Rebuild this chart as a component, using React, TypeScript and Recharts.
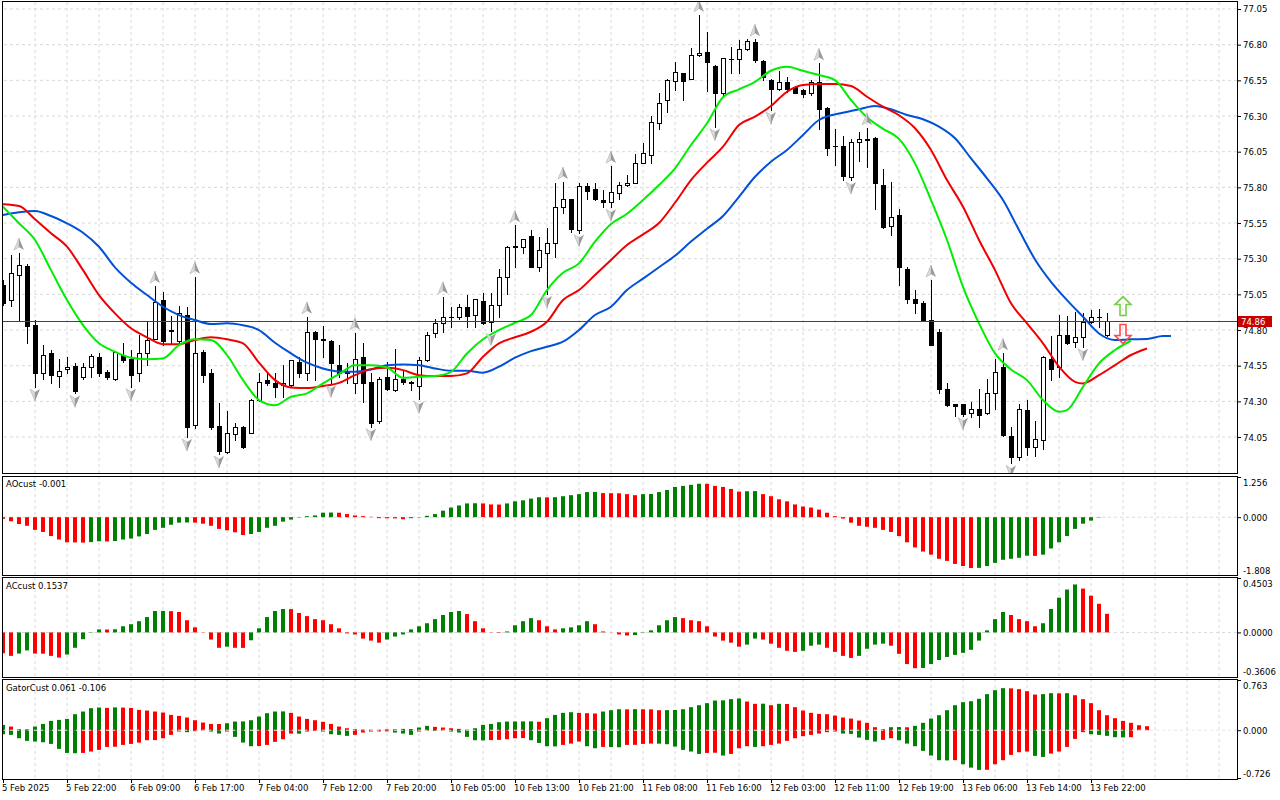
import React from "react";
import {
  ComposedChart,
  Bar,
  Line,
  Scatter,
  XAxis,
  YAxis,
  ReferenceLine,
  Cell,
} from "recharts";

// H1 candles (bar 0 = 5 Feb 2025)
const opens = [
  75.115, 75.01, 75.185, 75.248, 74.835, 74.498, 74.637, 74.477, 74.526, 74.547,
  74.47, 74.54, 74.608, 74.505, 74.456, 74.622, 74.594, 74.498, 74.639, 74.737,
  75.01, 74.8, 74.723, 74.905, 74.134, 74.646, 74.5, 74.127, 73.945, 74.071,
  74.12, 74.078, 74.309, 74.449, 74.426, 74.412, 74.414, 74.575, 74.498, 74.786,
  74.74, 74.725, 74.552, 74.506, 74.428, 74.608, 74.433, 74.162, 74.468, 74.379,
  74.456, 74.437, 74.407, 74.589, 74.779, 74.849, 74.893, 74.891, 74.963, 74.905,
  75.005, 74.856, 74.975, 75.171, 75.39, 75.382, 75.459, 75.241, 75.34, 75.41,
  75.662, 75.716, 75.501, 75.809, 75.786, 75.711, 75.697, 75.762, 75.814, 75.83,
  75.97, 76.026, 76.251, 76.412, 76.545, 76.599, 76.559, 76.727, 76.749, 76.65,
  76.461, 76.7, 76.699, 76.77, 76.819, 76.688, 76.552, 76.489, 76.538, 76.501,
  76.482, 76.461, 76.538, 76.354, 76.09, 76.09, 75.872, 76.118, 76.135, 76.146,
  75.814, 75.529, 75.604, 75.225, 75.015, 74.991, 74.87, 74.786, 74.384, 74.281,
  74.281, 74.218, 74.244, 74.218, 74.358, 74.543, 74.057, 73.91, 74.239, 73.98,
  74.029, 74.599, 74.54, 74.763, 74.716, 74.751, 74.856, 74.893, 74.762,
];
const highs = [
  75.15, 75.325, 75.339, 75.262, 74.87, 74.695, 74.66, 74.596, 74.61, 74.571,
  74.571, 74.631, 74.636, 74.519, 74.65, 74.707, 74.66, 74.762, 74.865, 75.108,
  75.066, 74.898, 74.968, 74.961, 75.173, 74.66, 74.528, 74.29, 74.23, 74.148,
  74.127, 74.315, 74.5, 74.496, 74.496, 74.552, 74.589, 74.608, 74.893, 74.79,
  74.828, 74.73, 74.692, 74.568, 74.781, 74.711, 74.501, 74.47, 74.575, 74.664,
  74.51, 74.44, 74.613, 74.786, 74.877, 75.033, 74.963, 74.98, 75.043, 75.02,
  75.057, 75.057, 75.229, 75.39, 75.534, 75.44, 75.502, 75.454, 75.515, 75.828,
  75.837, 75.72, 75.828, 75.83, 75.828, 75.78, 75.949, 75.837, 75.889, 76.033,
  76.108, 76.3, 76.46, 76.56, 76.678, 76.6, 76.777, 77.01, 76.889, 76.66,
  76.71, 76.786, 76.833, 76.842, 76.838, 76.69, 76.56, 76.613, 76.575, 76.51,
  76.49, 76.552, 76.669, 76.36, 76.206, 76.16, 76.139, 76.188, 76.216, 76.15,
  75.926, 75.837, 75.65, 75.243, 75.08, 75.0, 75.15, 74.805, 74.426, 74.285,
  74.285, 74.295, 74.388, 74.454, 74.594, 74.637, 74.122, 74.281, 74.309, 74.164,
  74.62, 74.758, 74.903, 74.898, 74.926, 74.917, 74.94, 74.945, 74.919,
];
const lows = [
  74.975, 74.968, 74.865, 74.71, 74.4, 74.456, 74.431, 74.4, 74.498, 74.356,
  74.456, 74.47, 74.477, 74.456, 74.452, 74.575, 74.402, 74.444, 74.552, 74.735,
  74.693, 74.71, 74.71, 74.05, 74.113, 74.435, 74.104, 73.931, 73.935, 74.029,
  73.975, 74.075, 74.3, 74.412, 74.328, 74.328, 74.41, 74.47, 74.449, 74.449,
  74.613, 74.426, 74.472, 74.426, 74.356, 74.295, 74.122, 74.146, 74.38, 74.375,
  74.42, 74.38, 74.314, 74.58, 74.753, 74.786, 74.818, 74.88, 74.818, 74.818,
  74.84, 74.79, 74.89, 75.052, 75.243, 75.337, 75.24, 75.213, 75.052, 75.314,
  75.618, 75.49, 75.482, 75.72, 75.71, 75.664, 75.66, 75.72, 75.81, 75.828,
  75.968, 75.973, 76.206, 76.328, 76.482, 76.412, 76.556, 76.72, 76.477, 76.225,
  76.435, 76.599, 76.599, 76.76, 76.678, 76.552, 76.342, 76.48, 76.468, 76.46,
  76.435, 76.45, 76.211, 76.024, 75.954, 75.851, 75.851, 75.986, 75.944, 75.65,
  75.515, 75.464, 75.113, 74.987, 74.917, 74.86, 74.694, 74.356, 74.267, 74.197,
  74.2, 74.192, 74.122, 74.21, 74.244, 74.06, 73.865, 73.889, 73.922, 73.917,
  73.964, 74.449, 74.469, 74.7, 74.683, 74.683, 74.85, 74.823, 74.755,
];
const closes = [
  74.989, 75.199, 75.255, 74.828, 74.498, 74.624, 74.484, 74.512, 74.54, 74.372,
  74.54, 74.617, 74.501, 74.468, 74.646, 74.589, 74.482, 74.637, 74.73, 74.996,
  74.72, 74.79, 74.919, 74.12, 74.638, 74.484, 74.122, 73.954, 74.078, 74.12,
  73.982, 74.309, 74.435, 74.426, 74.398, 74.426, 74.589, 74.501, 74.786, 74.735,
  74.73, 74.566, 74.496, 74.496, 74.596, 74.428, 74.15, 74.456, 74.384, 74.456,
  74.437, 74.428, 74.589, 74.765, 74.849, 74.891, 74.889, 74.961, 74.898, 75.017,
  74.851, 74.975, 75.171, 75.382, 75.38, 75.438, 75.243, 75.361, 75.41, 75.662,
  75.718, 75.51, 75.809, 75.776, 75.72, 75.697, 75.767, 75.814, 75.828, 75.97,
  76.038, 76.258, 76.391, 76.552, 76.608, 76.547, 76.727, 76.741, 76.678, 76.459,
  76.706, 76.702, 76.77, 76.826, 76.692, 76.575, 76.487, 76.538, 76.487, 76.463,
  76.454, 76.538, 76.347, 76.073, 76.089, 75.879, 76.118, 76.136, 76.137, 75.828,
  75.524, 75.592, 75.239, 75.015, 74.987, 74.865, 74.694, 74.384, 74.276, 74.267,
  74.211, 74.246, 74.206, 74.356, 74.505, 74.066, 73.907, 74.246, 73.978, 74.036,
  74.611, 74.524, 74.765, 74.711, 74.751, 74.856, 74.891, 74.891, 74.86,
];

// Alligator lines as [bar, value]; they run past the last candle by their shifts
const jawPoints: [number, number][] = [
  [0, 75.606], [2, 75.625], [4, 75.634], [6, 75.599], [8, 75.548], [10, 75.482],
  [12, 75.384], [14, 75.239], [16, 75.131], [18, 75.045], [20, 74.963], [22, 74.905],
  [24, 74.87], [26, 74.842], [28, 74.847], [30, 74.833], [32, 74.8], [34, 74.711],
  [36, 74.636], [38, 74.571], [40, 74.531], [42, 74.51], [44, 74.507], [46, 74.524],
  [48, 74.554], [50, 74.559], [52, 74.554], [54, 74.531], [56, 74.515], [58, 74.515],
  [60, 74.501], [62, 74.543], [64, 74.606], [66, 74.652], [68, 74.683], [70, 74.718],
  [72, 74.8], [74, 74.905], [76, 74.963], [78, 75.08], [80, 75.16], [82, 75.24],
  [84, 75.32], [86, 75.42], [88, 75.51], [90, 75.599], [92, 75.734], [94, 75.874],
  [96, 75.98], [98, 76.062], [100, 76.167], [102, 76.272], [105, 76.323], [107, 76.347],
  [109, 76.37], [111, 76.347], [113, 76.307], [115, 76.277], [117, 76.225], [119, 76.144],
  [121, 76.003], [123, 75.863], [125, 75.711], [127, 75.501], [129, 75.295], [131, 75.138],
  [133, 75.01], [135, 74.893], [137, 74.776], [139, 74.73], [141, 74.735], [143, 74.737],
  [145, 74.758], [146, 74.758],
];
const teethPoints: [number, number][] = [
  [0, 75.681], [2, 75.669], [4, 75.576], [6, 75.478], [8, 75.384], [10, 75.22],
  [12, 75.045], [14, 74.917], [16, 74.812], [18, 74.749], [20, 74.701], [22, 74.701],
  [24, 74.73], [26, 74.749], [28, 74.735], [30, 74.707], [32, 74.571], [34, 74.449],
  [36, 74.398], [38, 74.393], [40, 74.407], [42, 74.43], [44, 74.484], [46, 74.526],
  [48, 74.535], [50, 74.519], [52, 74.484], [54, 74.477], [56, 74.477], [58, 74.496],
  [60, 74.613], [62, 74.707], [64, 74.749], [66, 74.788], [68, 74.858], [70, 75.01],
  [72, 75.08], [74, 75.185], [76, 75.291], [78, 75.396], [80, 75.47], [82, 75.55],
  [84, 75.692], [86, 75.851], [88, 75.973], [90, 76.085], [92, 76.237], [94, 76.295],
  [96, 76.37], [98, 76.47], [100, 76.517], [102, 76.524], [104, 76.524], [106, 76.51],
  [108, 76.435], [110, 76.365], [112, 76.305], [114, 76.214], [116, 76.062], [118, 75.851],
  [120, 75.664], [122, 75.431], [124, 75.22], [126, 74.987], [128, 74.847], [130, 74.707],
  [132, 74.543], [134, 74.437], [135, 74.426], [137, 74.484], [139, 74.554], [141, 74.625],
  [143, 74.671],
];
const lipsPoints: [number, number][] = [
  [0, 75.664], [2, 75.548], [4, 75.431], [6, 75.22], [8, 75.01], [10, 74.835],
  [12, 74.707], [14, 74.648], [16, 74.606], [18, 74.596], [20, 74.601], [22, 74.694],
  [24, 74.735], [26, 74.73], [28, 74.625], [30, 74.449], [32, 74.309], [34, 74.272],
  [36, 74.332], [38, 74.356], [40, 74.426], [42, 74.491], [44, 74.554], [46, 74.554],
  [48, 74.538], [50, 74.465], [52, 74.472], [54, 74.477], [56, 74.507], [58, 74.636],
  [60, 74.735], [62, 74.8], [64, 74.851], [66, 74.905], [68, 75.08], [70, 75.201],
  [72, 75.267], [74, 75.419], [76, 75.543], [78, 75.615], [80, 75.711], [82, 75.816],
  [84, 75.933], [86, 76.097], [88, 76.249], [90, 76.431], [92, 76.487], [94, 76.54],
  [96, 76.617], [98, 76.645], [100, 76.617], [102, 76.587], [104, 76.552], [106, 76.412],
  [108, 76.291], [110, 76.21], [112, 76.14], [114, 75.968], [116, 75.711], [118, 75.431],
  [120, 75.103], [122, 74.847], [124, 74.636], [126, 74.524], [128, 74.449], [130, 74.309],
  [132, 74.227], [133, 74.239], [135, 74.402], [137, 74.566], [139, 74.66], [141, 74.725],
];

// Bill Williams fractals (bar numbers) and the two signal arrows
const fractalUpBars = [2, 19, 24, 38, 44, 55, 64, 70, 76, 87, 94, 102, 108, 116, 125];
const fractalDownBars = [4, 9, 16, 23, 27, 41, 46, 52, 61, 68, 72, 76, 89, 96, 106, 120, 126, 135];
const buySignals: [number, number][] = [[140, 74.968]];
const sellSignals: [number, number][] = [[140, 74.772]];
const lastPrice = 74.86;

const aoValues = [
  -0.05, -0.129, -0.215, -0.269, -0.398, -0.462, -0.591, -0.699, -0.785, -0.79,
  -0.795, -0.78, -0.753, -0.76, -0.745, -0.699, -0.667, -0.602, -0.527, -0.398,
  -0.333, -0.237, -0.172, -0.165, -0.17, -0.204, -0.269, -0.366, -0.409, -0.473,
  -0.559, -0.527, -0.462, -0.333, -0.269, -0.14, -0.075, -0.01, 0.03, 0.054,
  0.14, 0.145, 0.14, 0.097, 0.054, 0.032, 0.01, -0.032, -0.035, -0.038,
  -0.065, -0.032, -0.01, 0.043, 0.097, 0.204, 0.301, 0.366, 0.43, 0.435,
  0.43, 0.398, 0.395, 0.43, 0.495, 0.527, 0.581, 0.624, 0.62, 0.625,
  0.656, 0.688, 0.72, 0.785, 0.79, 0.753, 0.75, 0.747, 0.72, 0.688,
  0.72, 0.725, 0.785, 0.849, 0.946, 0.978, 1.011, 1.045, 1.043, 0.978,
  0.946, 0.882, 0.8, 0.81, 0.815, 0.72, 0.656, 0.559, 0.495, 0.398,
  0.333, 0.301, 0.237, 0.14, 0.032, -0.043, -0.172, -0.269, -0.3, -0.333,
  -0.398, -0.462, -0.591, -0.785, -0.946, -1.075, -1.172, -1.301, -1.366, -1.462,
  -1.527, -1.591, -1.585, -1.527, -1.43, -1.333, -1.301, -1.269, -1.204, -1.21,
  -1.172, -0.978, -0.785, -0.591, -0.366, -0.204, -0.108, -0.01, -0.001,
];
const acValues = [
  -0.172, -0.194, -0.175, -0.149, -0.175, -0.176, -0.194, -0.208, -0.183, -0.127,
  -0.056, -0.003, 0.025, 0.024, 0.026, 0.051, 0.068, 0.093, 0.127, 0.177,
  0.178, 0.176, 0.169, 0.101, 0.042, -0.002, -0.059, -0.127, -0.118, -0.127,
  -0.128, -0.065, 0.034, 0.127, 0.177, 0.194, 0.193, 0.161, 0.135, 0.11,
  0.101, 0.068, 0.034, -0.008, -0.017, -0.051, -0.068, -0.085, -0.059, -0.034,
  -0.017, 0.025, 0.051, 0.076, 0.11, 0.144, 0.169, 0.177, 0.152, 0.093,
  0.034, -0.002, -0.004, 0.008, 0.059, 0.093, 0.118, 0.101, 0.051, 0.025,
  0.034, 0.042, 0.059, 0.093, 0.068, 0.008, -0.001, -0.017, -0.025, -0.022,
  -0.003, 0.017, 0.059, 0.101, 0.127, 0.118, 0.101, 0.093, 0.051, -0.034,
  -0.068, -0.085, -0.118, -0.101, -0.051, -0.059, -0.093, -0.127, -0.152, -0.161,
  -0.152, -0.11, -0.101, -0.127, -0.161, -0.194, -0.211, -0.194, -0.135, -0.101,
  -0.093, -0.11, -0.177, -0.262, -0.296, -0.294, -0.262, -0.228, -0.203, -0.186,
  -0.169, -0.144, -0.068, 0.017, 0.11, 0.169, 0.144, 0.11, 0.093, 0.051,
  0.076, 0.194, 0.287, 0.355, 0.397, 0.363, 0.304, 0.237, 0.1537,
];
const gatorUpper = [
  0.081, 0.056, 0.015, 0.014, 0.056, 0.096, 0.142, 0.157, 0.172, 0.243,
  0.284, 0.335, 0.345, 0.34, 0.347, 0.344, 0.339, 0.309, 0.299, 0.284,
  0.269, 0.233, 0.218, 0.193, 0.152, 0.117, 0.096, 0.094, 0.106, 0.132,
  0.134, 0.152, 0.208, 0.259, 0.284, 0.286, 0.264, 0.208, 0.172, 0.152,
  0.127, 0.096, 0.056, 0.03, 0.015, 0.01, 0.009, 0.008, 0.013, 0.015,
  0.02, 0.018, 0.041, 0.066, 0.051, 0.041, 0.03, 0.02, 0.01, 0.03,
  0.081, 0.096, 0.122, 0.132, 0.133, 0.134, 0.135, 0.129, 0.183, 0.233,
  0.264, 0.274, 0.264, 0.259, 0.254, 0.284, 0.304, 0.319, 0.317, 0.32,
  0.318, 0.317, 0.304, 0.305, 0.307, 0.319, 0.35, 0.38, 0.411, 0.451,
  0.454, 0.472, 0.482, 0.436, 0.401, 0.403, 0.38, 0.401, 0.398, 0.35,
  0.299, 0.264, 0.248, 0.243, 0.223, 0.193, 0.177, 0.147, 0.112, 0.046,
  0.015, 0.046, 0.048, 0.045, 0.066, 0.112, 0.177, 0.228, 0.304, 0.38,
  0.426, 0.441, 0.477, 0.548, 0.608, 0.639, 0.636, 0.624, 0.593, 0.542,
  0.548, 0.563, 0.56, 0.563, 0.532, 0.472, 0.411, 0.304, 0.228, 0.183,
  0.142, 0.112, 0.076, 0.061,
];
const gatorLower = [
  -0.061, -0.071, -0.122, -0.162, -0.172, -0.183, -0.208, -0.284, -0.345, -0.35,
  -0.345, -0.324, -0.299, -0.254, -0.251, -0.223, -0.208, -0.188, -0.152, -0.15,
  -0.122, -0.071, -0.02, -0.03, -0.015, -0.005, -0.02, -0.051, -0.02, -0.101,
  -0.188, -0.243, -0.241, -0.223, -0.177, -0.137, -0.051, -0.053, -0.02, -0.01,
  -0.02, -0.061, -0.071, -0.086, -0.071, -0.035, -0.02, -0.019, -0.018, -0.035,
  -0.051, -0.071, -0.02, -0.005, -0.01, -0.009, -0.02, -0.035, -0.101, -0.152,
  -0.155, -0.15, -0.147, -0.137, -0.122, -0.119, -0.152, -0.193, -0.243, -0.246,
  -0.223, -0.203, -0.172, -0.243, -0.274, -0.254, -0.256, -0.259, -0.223, -0.222,
  -0.208, -0.203, -0.204, -0.213, -0.248, -0.299, -0.324, -0.36, -0.345, -0.342,
  -0.385, -0.36, -0.274, -0.243, -0.254, -0.243, -0.223, -0.203, -0.162, -0.122,
  -0.091, -0.071, -0.051, -0.03, -0.02, -0.051, -0.056, -0.112, -0.147, -0.172,
  -0.147, -0.122, -0.152, -0.203, -0.243, -0.314, -0.385, -0.456, -0.459, -0.455,
  -0.517, -0.568, -0.603, -0.601, -0.517, -0.456, -0.375, -0.335, -0.324, -0.39,
  -0.406, -0.355, -0.324, -0.254, -0.132, -0.03, -0.061, -0.071, -0.086, -0.106,
  -0.109, -0.106,
];

const priceTicks = [74.05, 74.3, 74.55, 74.8, 75.05, 75.3, 75.55, 75.8, 76.05, 76.3, 76.55, 76.8, 77.05];
const timeLabels = [
  "5 Feb 2025", "5 Feb 22:00", "6 Feb 09:00", "6 Feb 17:00", "7 Feb 04:00", "7 Feb 12:00",
  "7 Feb 20:00", "10 Feb 05:00", "10 Feb 13:00", "10 Feb 21:00", "11 Feb 08:00", "11 Feb 16:00",
  "12 Feb 03:00", "12 Feb 11:00", "12 Feb 19:00", "13 Feb 06:00", "13 Feb 14:00", "13 Feb 22:00",
];

const FONT = "'DejaVu Sans', Tahoma, sans-serif";
const FS = 8.5;
const GREEN = "#008000";
const RED = "#ff0000";
const GRID = "#d9d9d9";
const X_DOMAIN: [number, number] = [-0.125, 154.25];
const gridBars = Array.from({ length: 38 }, (_, i) => 4 * (i + 1));
const labelBars = timeLabels.map((_, i) => i * 8);

const PRICE_DOMAIN: [number, number] = [73.798, 77.099];
const AO_DOMAIN: [number, number] = [-1.808, 1.256];
const AC_DOMAIN: [number, number] = [-0.3606, 0.4503];
const GATOR_DOMAIN: [number, number] = [-0.726, 0.763];

// rows for the price panel
const mainRows: any[] = Array.from({ length: 147 }, (_, k) => ({
  k,
  o: opens[k],
  h: highs[k],
  l: lows[k],
  c: closes[k],
}));
jawPoints.forEach(([k, v]) => (mainRows[k].jaw = v));
teethPoints.forEach(([k, v]) => (mainRows[k].teeth = v));
lipsPoints.forEach(([k, v]) => (mainRows[k].lips = v));

const oscRows = aoValues.map((ao, k) => ({ k, ao, ac: acValues[k] }));
const gatorRows = gatorUpper.map((gu, k) => ({ k, gu, gd: gatorLower[k] }));

const absColor = (vals: number[], i: number) =>
  i === 0 ? GREEN : Math.abs(vals[i]) > Math.abs(vals[i - 1]) ? GREEN : RED;
const oscColor = (vals: number[], i: number) => (i === 0 ? RED : vals[i] > vals[i - 1] ? GREEN : RED);

const candleRange = (d: any) => (d.o == null ? null : [d.l, d.h]);

function Candle(props: any) {
  const { x, y, width, height, payload } = props;
  if (!payload || payload.o == null || x == null) return null;
  const top = Math.min(y, y + height);
  const span = Math.abs(height);
  const range = payload.h - payload.l;
  const toY = (v: number) => (range > 0 ? top + ((payload.h - v) / range) * span : top);
  const cx = Math.round(x + width / 2) + 0.5;
  const yo = toY(payload.o);
  const yc = toY(payload.c);
  const bt = Math.round(Math.min(yo, yc)) + 0.5;
  const bb = Math.round(Math.max(yo, yc)) + 0.5;
  const bull = payload.c >= payload.o;
  return (
    <g>
      <line x1={cx} x2={cx} y1={Math.round(top)} y2={Math.round(top + span) + 1} stroke="#000" strokeWidth={1} />
      {bb - bt < 1 ? (
        <line x1={cx - 2.5} x2={cx + 2.5} y1={bt} y2={bt} stroke="#000" strokeWidth={1} />
      ) : (
        <rect x={cx - 2} y={bt} width={4} height={bb - bt} fill={bull ? "#fff" : "#000"} stroke="#000" strokeWidth={1} />
      )}
    </g>
  );
}

function FractalUp(props: any) {
  const { cx, cy } = props;
  if (cx == null) return null;
  const y = cy - 9;
  return (
    <g>
      <polygon points={`${cx},${y - 6} ${cx - 5},${y + 6} ${cx},${y + 3}`} fill="#dcdcdc" stroke="#a0a0a0" strokeWidth={0.5} />
      <polygon points={`${cx},${y - 6} ${cx + 5},${y + 6} ${cx},${y + 3}`} fill="#9a9a9a" />
    </g>
  );
}

function FractalDown(props: any) {
  const { cx, cy } = props;
  if (cx == null) return null;
  const y = cy + 8;
  return (
    <g>
      <polygon points={`${cx},${y + 6} ${cx - 5},${y - 6} ${cx},${y - 3}`} fill="#dcdcdc" stroke="#a0a0a0" strokeWidth={0.5} />
      <polygon points={`${cx},${y + 6} ${cx + 5},${y - 6} ${cx},${y - 3}`} fill="#9a9a9a" />
    </g>
  );
}

const arrowPts = (cx: number, cy: number, dir: number) =>
  [[0, -9.5], [8, -1.5], [3, -1.5], [3, 9.5], [-3, 9.5], [-3, -1.5], [-8, -1.5]]
    .map(([dx, dy]) => `${cx + dx},${cy + dy * dir}`)
    .join(" ");

function BuyArrow(props: any) {
  const { cx, cy } = props;
  if (cx == null) return null;
  return <polygon points={arrowPts(cx, cy, 1)} fill="none" stroke="#74d044" strokeWidth={1.6} />;
}

function SellArrow(props: any) {
  const { cx, cy } = props;
  if (cx == null) return null;
  return <polygon points={arrowPts(cx, cy, -1)} fill="none" stroke="#ff4848" strokeWidth={1.6} />;
}

// crisp 1px horizontal line for the current-price marker
function PriceLine(props: any) {
  const { x1, x2, y1 } = props;
  if (x1 == null || y1 == null) return null;
  const y = Math.round(y1) + 0.5;
  return <line x1={x1} x2={x2} y1={y} y2={y} stroke="#e00000" strokeWidth={1} />;
}

function PriceTag(props: any) {
  const vb = props.viewBox || {};
  const x = (vb.x || 0) + (vb.width || 0) + 1;
  const y = Math.round(vb.y || 0);
  return (
    <g>
      <rect x={x} y={y - 5} width={34} height={11} fill="#c80000" />
      <text x={x + 3} y={y + 4} fill="#fff" fontSize={FS} fontFamily={FONT}>
        {lastPrice.toFixed(2)}
      </text>
    </g>
  );
}

function PriceTick(props: any) {
  const { x, y, payload } = props;
  return (
    <g>
      <line x1={x} x2={x + 4} y1={y + 0.5} y2={y + 0.5} stroke="#000" />
      <text x={x + 6} y={y + 3.5} fontSize={FS} fontFamily={FONT} fill="#000">
        {Number(payload.value).toFixed(2)}
      </text>
    </g>
  );
}

const makeSubTick = (digits: number, max: number, min: number) =>
  function SubTick(props: any) {
    const { x, y, payload } = props;
    const v = Number(payload.value);
    const dy = v === max ? 5 : v === min ? -5 : 0;
    return (
      <g>
        <line x1={x} x2={x + 4} y1={y + 0.5} y2={y + 0.5} stroke="#000" />
        <text x={x + 6} y={y + dy + 3.5} fontSize={FS} fontFamily={FONT} fill="#000">
          {v.toFixed(digits)}
        </text>
      </g>
    );
  };

function TimeTick(props: any) {
  const { x, y, payload } = props;
  const label = timeLabels[Math.round(payload.value / 8)];
  const px = Math.round(x) + 0.5;
  return (
    <g>
      <line x1={px} x2={px} y1={y + 1} y2={y + 5} stroke="#000" />
      <text x={x - 1} y={y + 13} fontSize={FS} fontFamily={FONT} fill="#000" textAnchor="start">
        {label}
      </text>
    </g>
  );
}

const xAxisHidden = <XAxis type="number" dataKey="k" domain={X_DOMAIN} allowDataOverflow hide />;

// grid drawn in its own layer, underneath the marks
function GridLayer({ height, domain, hLines, data }: any) {
  return (
    <ComposedChart width={1280} height={height} data={data} margin={{ top: 0, right: 0, bottom: 0, left: 2 }}>
      {xAxisHidden}
      <YAxis orientation="right" width={43} domain={domain} allowDataOverflow tick={false} tickLine={false} axisLine={false} />
      {hLines.map((p: number) => (
        <ReferenceLine key={`h${p}`} y={p} stroke={GRID} strokeDasharray="3 3" />
      ))}
      {gridBars.map((k) => (
        <ReferenceLine key={`v${k}`} x={k} stroke={GRID} strokeDasharray="3 3" />
      ))}
    </ComposedChart>
  );
}

const frame = (top: number, height: number) => (
  <div
    style={{
      position: "absolute",
      left: 2,
      top,
      width: 1236,
      height,
      boxSizing: "border-box",
      border: "1px solid #000",
      pointerEvents: "none",
    }}
  />
);

const title = (top: number, text: string) => (
  <div style={{ position: "absolute", left: 6, top, fontSize: FS, fontFamily: FONT, color: "#000", lineHeight: "10px" }}>
    {text}
  </div>
);

const panel = (top: number, child: React.ReactNode) => (
  <div style={{ position: "absolute", left: 0, top }}>{child}</div>
);

export default function App() {
  const aoTick = makeSubTick(3, 1.256, -1.808);
  const acTick = makeSubTick(4, 0.4503, -0.3606);
  const gatorTick = makeSubTick(3, 0.763, -0.726);
  return (
    <div style={{ position: "fixed", left: 0, top: 0, width: 1280, height: 800, background: "#fff", overflow: "hidden" }}>
      {/* grid layers */}
      {panel(2, <GridLayer height={471} domain={PRICE_DOMAIN} hLines={priceTicks} data={mainRows} />)}
      {panel(477, <GridLayer height={98} domain={AO_DOMAIN} hLines={[0]} data={oscRows} />)}
      {panel(578, <GridLayer height={98} domain={AC_DOMAIN} hLines={[0]} data={oscRows} />)}
      {panel(680, <GridLayer height={98} domain={GATOR_DOMAIN} hLines={[]} data={gatorRows} />)}

      {/* price panel */}
      {panel(
        0,
        <ComposedChart width={1280} height={473} data={mainRows} margin={{ top: 2, right: 0, bottom: 0, left: 2 }}>
          {xAxisHidden}
          <YAxis
            orientation="right"
            width={43}
            domain={PRICE_DOMAIN}
            allowDataOverflow
            ticks={priceTicks}
            interval={0}
            tick={<PriceTick />}
            tickLine={false}
            axisLine={false}
            tickSize={0}
            tickMargin={0}
          />
          <Bar dataKey={candleRange} barSize={5} shape={(p: any) => <Candle {...p} />} isAnimationActive={false} />
          <Line dataKey="jaw" type="monotone" stroke="#0050d8" strokeWidth={2} dot={false} connectNulls isAnimationActive={false} />
          <Line dataKey="teeth" type="monotone" stroke="#f00000" strokeWidth={2} dot={false} connectNulls isAnimationActive={false} />
          <Line dataKey="lips" type="monotone" stroke="#00ee00" strokeWidth={2} dot={false} connectNulls isAnimationActive={false} />
          <ReferenceLine
            y={lastPrice}
            stroke="#e00000"
            shape={(p: any) => <PriceLine {...p} />}
            label={<PriceTag />}
          />
          <Scatter
            data={fractalUpBars.map((k) => ({ k, v: highs[k] }))}
            dataKey="v"
            shape={(p: any) => <FractalUp {...p} />}
            isAnimationActive={false}
          />
          <Scatter
            data={fractalDownBars.map((k) => ({ k, v: lows[k] }))}
            dataKey="v"
            shape={(p: any) => <FractalDown {...p} />}
            isAnimationActive={false}
          />
          <Scatter
            data={buySignals.map(([k, v]) => ({ k, v }))}
            dataKey="v"
            shape={(p: any) => <BuyArrow {...p} />}
            isAnimationActive={false}
          />
          <Scatter
            data={sellSignals.map(([k, v]) => ({ k, v }))}
            dataKey="v"
            shape={(p: any) => <SellArrow {...p} />}
            isAnimationActive={false}
          />
        </ComposedChart>
      )}

      {/* AO */}
      {panel(
        477,
        <ComposedChart width={1280} height={98} data={oscRows} margin={{ top: 0, right: 0, bottom: 0, left: 2 }}>
          {xAxisHidden}
          <YAxis orientation="right" width={43} domain={AO_DOMAIN} allowDataOverflow ticks={[1.256, 0, -1.808]} interval={0}
            tick={aoTick} tickLine={false} axisLine={false} tickSize={0} tickMargin={0} />
          <Bar dataKey="ao" barSize={4} isAnimationActive={false}>
            {aoValues.map((_, i) => (
              <Cell key={i} fill={oscColor(aoValues, i)} />
            ))}
          </Bar>
        </ComposedChart>
      )}

      {/* AC */}
      {panel(
        578,
        <ComposedChart width={1280} height={98} data={oscRows} margin={{ top: 0, right: 0, bottom: 0, left: 2 }}>
          {xAxisHidden}
          <YAxis orientation="right" width={43} domain={AC_DOMAIN} allowDataOverflow ticks={[0.4503, 0, -0.3606]} interval={0}
            tick={acTick} tickLine={false} axisLine={false} tickSize={0} tickMargin={0} />
          <Bar dataKey="ac" barSize={4} isAnimationActive={false}>
            {acValues.map((_, i) => (
              <Cell key={i} fill={oscColor(acValues, i)} />
            ))}
          </Bar>
        </ComposedChart>
      )}

      {/* Gator */}
      {panel(
        680,
        <ComposedChart width={1280} height={120} data={gatorRows} stackOffset="sign" margin={{ top: 0, right: 0, bottom: 0, left: 2 }}>
          <XAxis type="number" dataKey="k" domain={X_DOMAIN} allowDataOverflow ticks={labelBars} interval={0}
            tick={<TimeTick />} tickLine={false} axisLine={false} tickSize={0} tickMargin={0} height={22} />
          <YAxis orientation="right" width={43} domain={GATOR_DOMAIN} allowDataOverflow ticks={[0.763, 0, -0.726]} interval={0}
            tick={gatorTick} tickLine={false} axisLine={false} tickSize={0} tickMargin={0} />
          <Bar dataKey="gu" stackId="g" barSize={4} isAnimationActive={false}>
            {gatorUpper.map((_, i) => (
              <Cell key={i} fill={absColor(gatorUpper, i)} />
            ))}
          </Bar>
          <Bar dataKey="gd" stackId="g" barSize={4} isAnimationActive={false}>
            {gatorUpper.map((_, i) => (
              <Cell key={i} fill={i < gatorLower.length ? absColor(gatorLower, i) : "none"} />
            ))}
          </Bar>
          <ReferenceLine y={0} stroke="#e6e6e6" strokeDasharray="3 3" />
        </ComposedChart>
      )}

      {frame(1, 473)}
      {frame(476, 100)}
      {frame(577, 101)}
      {frame(679, 101)}
      {title(479, "AOcust -0.001")}
      {title(581, "ACcust 0.1537")}
      {title(683, "GatorCust 0.061 -0.106")}
    </div>
  );
}
